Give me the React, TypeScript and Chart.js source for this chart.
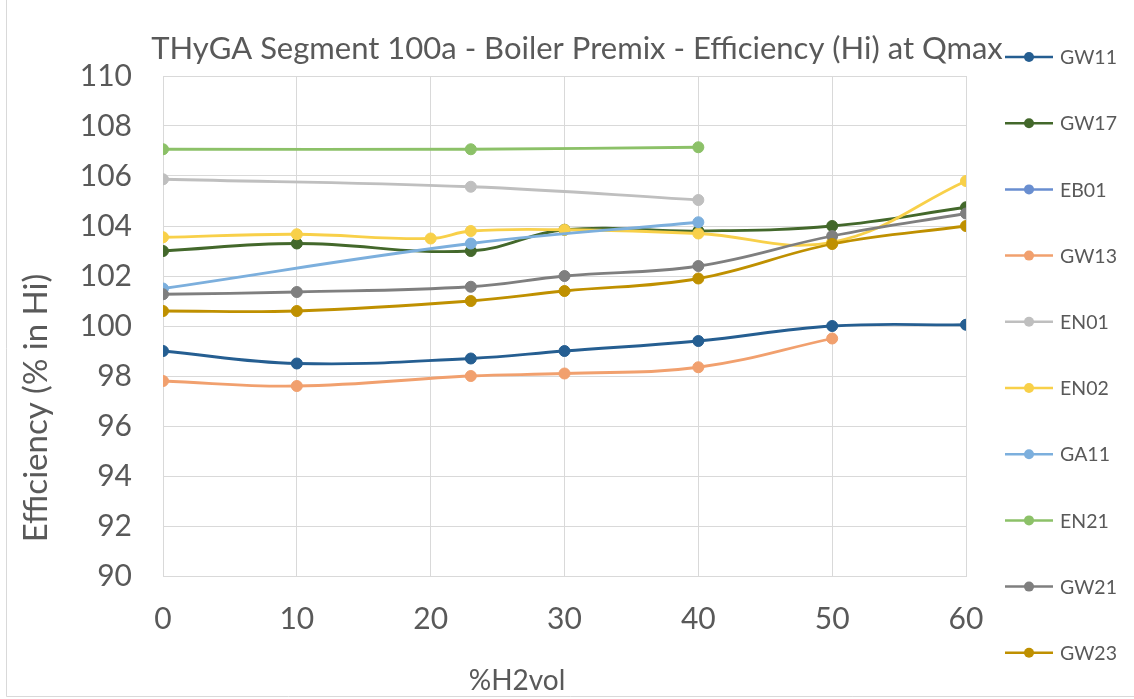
import React, { useEffect, useRef } from "react";
import { Chart, registerables } from "chart.js";

Chart.register(...registerables);

const TITLE = "THyGA Segment 100a - Boiler Premix - Efficiency (Hi) at Qmax";
const X_TITLE = "%H2vol";
const Y_TITLE = "Efficiency (% in Hi)";

const SERIES_NAMES = ["GW11", "GW17", "EB01", "GW13", "EN01", "EN02", "GA11", "EN21", "GW21", "GW23"];
const SERIES_COLORS = ["#255e91", "#43682b", "#698ed0", "#f1a06e", "#bfbfbf", "#f8d049", "#7cafdd", "#8cc168", "#7f7f7f", "#bf9000"];

const GW11_X = [0, 10, 23, 30, 40, 50, 60];
const GW11_Y = [99.0, 98.5, 98.7, 99.0, 99.4, 100.0, 100.05];
const GW17_X = [0, 10, 23, 30, 40, 50, 60];
const GW17_Y = [103.0, 103.3, 103.0, 103.85, 103.8, 104.0, 104.75];
const EB01_X: number[] = [];
const EB01_Y: number[] = [];
const GW13_X = [0, 10, 23, 30, 40, 50];
const GW13_Y = [97.8, 97.6, 98.0, 98.1, 98.35, 99.5];
const EN01_X = [0, 23, 40];
const EN01_Y = [105.87, 105.57, 105.04];
const EN02_X = [0, 10, 20, 23, 30, 40, 50, 60];
const EN02_Y = [103.55, 103.67, 103.5, 103.8, 103.85, 103.7, 103.35, 105.8];
const GA11_X = [0, 23, 40];
const GA11_Y = [101.5, 103.3, 104.15];
const EN21_X = [0, 23, 40];
const EN21_Y = [107.07, 107.07, 107.15];
const GW21_X = [0, 10, 23, 30, 40, 50, 60];
const GW21_Y = [101.27, 101.36, 101.57, 102.0, 102.4, 103.6, 104.5];
const GW23_X = [0, 10, 23, 30, 40, 50, 60];
const GW23_Y = [100.6, 100.6, 101.0, 101.4, 101.9, 103.28, 104.0];

const SERIES_X = [GW11_X, GW17_X, EB01_X, GW13_X, EN01_X, EN02_X, GA11_X, EN21_X, GW21_X, GW23_X];
const SERIES_Y = [GW11_Y, GW17_Y, EB01_Y, GW13_Y, EN01_Y, EN02_Y, GA11_Y, EN21_Y, GW21_Y, GW23_Y];

const TEXT_COLOR = "#595959";
const GRID_COLOR = "#d9d9d9";
const FONT = "Lato";

const decorPlugin = {
  id: "decor",
  beforeDraw(chart: any) {
    const ctx = chart.ctx;
    ctx.save();
    ctx.fillStyle = "#ffffff";
    ctx.fillRect(0, 0, chart.width, chart.height);
    ctx.strokeStyle = GRID_COLOR;
    ctx.lineWidth = 1;
    ctx.beginPath();
    ctx.moveTo(6.5, 0);
    ctx.lineTo(6.5, 696.5);
    ctx.lineTo(chart.width, 696.5);
    ctx.stroke();
    ctx.restore();
  },
  afterDraw(chart: any) {
    const ctx = chart.ctx;
    ctx.save();
    ctx.fillStyle = TEXT_COLOR;
    ctx.textAlign = "center";
    ctx.textBaseline = "alphabetic";
    ctx.font = `31px ${FONT}`;
    ctx.fillText(TITLE, 577, 59);
    ctx.font = `28px ${FONT}`;
    ctx.fillText(X_TITLE, 517, 690);

    // y-axis title
    ctx.save();
    ctx.translate(36, 408);
    ctx.rotate(-Math.PI / 2);
    ctx.textAlign = "center";
    ctx.textBaseline = "middle";
    ctx.font = `33px ${FONT}`;
    ctx.fillText(Y_TITLE, 0, 0);
    ctx.restore();

    // legend
    const datasets = chart.data.datasets;
    datasets.forEach((ds: any, i: number) => {
      const y = 57 + i * 66.2;
      ctx.strokeStyle = ds.borderColor;
      ctx.lineWidth = 2.5;
      ctx.beginPath();
      ctx.moveTo(1005, y);
      ctx.lineTo(1053, y);
      ctx.stroke();
      ctx.fillStyle = ds.borderColor;
      ctx.beginPath();
      ctx.arc(1029, y, 5, 0, Math.PI * 2);
      ctx.fill();
      ctx.fillStyle = TEXT_COLOR;
      ctx.textAlign = "left";
      ctx.textBaseline = "middle";
      ctx.font = `19.5px ${FONT}`;
      ctx.fillText(ds.label, 1060, y + 1);
    });
    ctx.restore();
  },
};

export default function App() {
  const canvasRef = useRef<HTMLCanvasElement | null>(null);

  useEffect(() => {
    const canvas = canvasRef.current;
    if (!canvas) return;
    const n = SERIES_NAMES.length;
    const datasets = SERIES_NAMES.map((name, i) => ({
      label: name,
      data: SERIES_X[i].map((x, j) => ({ x, y: SERIES_Y[i][j] })),
      borderColor: SERIES_COLORS[i],
      backgroundColor: SERIES_COLORS[i],
      pointBackgroundColor: SERIES_COLORS[i],
      pointBorderColor: SERIES_COLORS[i],
      borderWidth: 2.8,
      pointRadius: 5.5,
      pointBorderWidth: 1,
      tension: 0.4,
      fill: false,
      order: n - i,
    }));

    const chart = new Chart(canvas, {
      type: "line",
      data: { datasets },
      plugins: [decorPlugin],
      options: {
        animation: false,
        responsive: false,
        devicePixelRatio: 1,
        layout: { padding: { top: 76, right: 168, left: 0, bottom: 0 } },
        plugins: {
          legend: { display: false },
          title: { display: false },
          tooltip: { enabled: false },
        },
        scales: {
          x: {
            type: "linear",
            min: 0,
            max: 60,
            ticks: {
              stepSize: 10,
              color: TEXT_COLOR,
              font: { family: FONT, size: 30 },
              padding: 25,
            },
            grid: { color: GRID_COLOR, drawTicks: false, lineWidth: 1 },
            border: { color: GRID_COLOR },
            afterFit: (s: any) => {
              s.height = 123;
            },
          },
          y: {
            type: "linear",
            min: 90,
            max: 110,
            ticks: {
              stepSize: 2,
              color: TEXT_COLOR,
              font: { family: FONT, size: 30 },
              padding: 31,
            },
            grid: { color: GRID_COLOR, drawTicks: false, lineWidth: 1 },
            border: { color: GRID_COLOR },
            afterFit: (s: any) => {
              s.width = 163;
            },
          },
        },
      } as any,
    });
    return () => chart.destroy();
  }, []);

  return (
    <div style={{ position: "fixed", left: 0, top: 0, width: 1134, height: 699, background: "#fff" }}>
      <canvas ref={canvasRef} width={1134} height={699} style={{ display: "block" }} />
    </div>
  );
}
